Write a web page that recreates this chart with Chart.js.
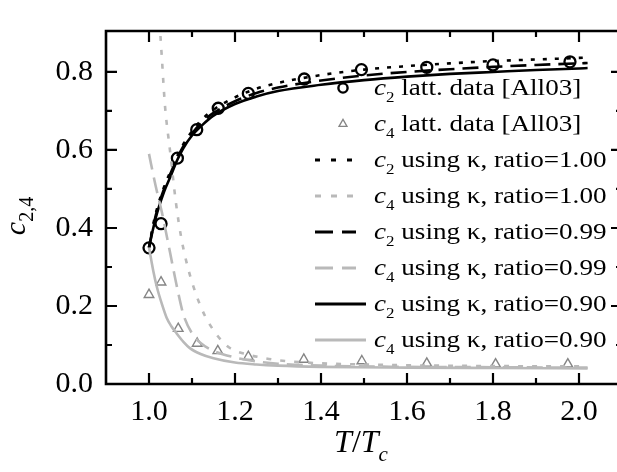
<!DOCTYPE html>
<html><head><meta charset="utf-8">
<script src="https://cdn.jsdelivr.net/npm/chart.js@4"></script>
<style>html,body{margin:0;padding:0;background:#fff;overflow:hidden;width:617px;height:472px}canvas{display:block}</style>
</head><body>
<canvas id="c" width="640" height="472"></canvas>
<script>
// ---- axis ticks ----
const xTicks = [1.0, 1.2, 1.4, 1.6, 1.8, 2.0];
const xMinor = [1.1, 1.3, 1.5, 1.7, 1.9, 2.1];
const yTicks = [0.0, 0.2, 0.4, 0.6, 0.8];
const yMinor = [0.1, 0.3, 0.5, 0.7];

// ---- lattice data ----
const c2LattT = [1.0, 1.028, 1.066, 1.111, 1.161, 1.231, 1.361, 1.494, 1.646, 1.80, 1.979];
const c2LattV = [0.349, 0.411, 0.579, 0.652, 0.707, 0.745, 0.782, 0.806, 0.812, 0.818, 0.826];
const c4LattT = [1.0, 1.028, 1.068, 1.112, 1.16, 1.231, 1.36, 1.495, 1.646, 1.806, 1.974];
const c4LattV = [0.229, 0.261, 0.142, 0.104, 0.085, 0.070, 0.063, 0.059, 0.053, 0.051, 0.051];

// ---- model curves ----
const c2T = [1.0, 1.01, 1.02, 1.035, 1.05, 1.066, 1.08, 1.1, 1.125, 1.15, 1.2, 1.25, 1.3, 1.4, 1.5, 1.6, 1.7, 1.8, 1.9, 2.0, 2.02];
const c2R100 = [0.35, 0.41, 0.455, 0.505, 0.545, 0.585, 0.615, 0.648, 0.68, 0.703, 0.735, 0.757, 0.772, 0.792, 0.806, 0.815, 0.822, 0.828, 0.832, 0.836, 0.837];
const c2R099 = [0.35, 0.405, 0.45, 0.5, 0.54, 0.58, 0.61, 0.642, 0.673, 0.695, 0.725, 0.746, 0.76, 0.778, 0.791, 0.8, 0.807, 0.813, 0.818, 0.822, 0.823];
const c2R090 = [0.35, 0.40, 0.443, 0.493, 0.532, 0.575, 0.605, 0.637, 0.665, 0.688, 0.718, 0.737, 0.751, 0.767, 0.779, 0.788, 0.795, 0.80, 0.805, 0.809, 0.81];

const c4R100T = [1.022, 1.026, 1.03, 1.037, 1.049, 1.063, 1.075, 1.091, 1.111, 1.13, 1.15, 1.17, 1.19, 1.22, 1.26, 1.3, 1.4, 1.5, 1.6, 1.8, 2.02];
const c4R100V = [1.0, 0.905, 0.835, 0.716, 0.597, 0.462, 0.375, 0.296, 0.225, 0.175, 0.138, 0.11, 0.091, 0.078, 0.068, 0.061, 0.053, 0.05, 0.048, 0.046, 0.045];
const c4R099T = [1.0, 1.015, 1.03, 1.049, 1.065, 1.08, 1.1, 1.12, 1.15, 1.2, 1.25, 1.3, 1.4, 1.6, 1.8, 2.02];
const c4R099V = [0.59, 0.51, 0.44, 0.337, 0.249, 0.178, 0.13, 0.105, 0.085, 0.068, 0.058, 0.052, 0.047, 0.044, 0.043, 0.042];
const c4R090T = [1.0, 1.01, 1.018, 1.03, 1.041, 1.052, 1.064, 1.08, 1.095, 1.12, 1.15, 1.2, 1.25, 1.3, 1.4, 1.6, 1.8, 2.02];
const c4R090V = [0.35, 0.29, 0.25, 0.205, 0.17, 0.148, 0.13, 0.108, 0.092, 0.077, 0.066, 0.055, 0.05, 0.047, 0.044, 0.042, 0.041, 0.04];

// ---- legend texts ----
const legendSub = ['2', '4', '2', '4', '2', '4', '2', '4'];
const legendText = ['latt. data [All03]', 'latt. data [All03]',
  'using \u03ba, ratio=1.00', 'using \u03ba, ratio=1.00',
  'using \u03ba, ratio=0.99', 'using \u03ba, ratio=0.99',
  'using \u03ba, ratio=0.90', 'using \u03ba, ratio=0.90'];

const FONT = 'Liberation Serif';
const GRAY = '#b9b9b9';
const TRI = '#858585';

const pts = (xs, ys) => xs.map((x, i) => ({x, y: ys[i]}));
const curve = (xs, ys, color, dash) => ({
  type: 'scatter', showLine: true, data: pts(xs, ys), borderColor: color, borderWidth: 2.6,
  borderDash: dash, pointRadius: 0, cubicInterpolationMode: 'monotone', fill: false
});

const legendStyle = [
  {kind: 'circle'}, {kind: 'tri'},
  {kind: 'line', color: '#000', dash: [5, 11]}, {kind: 'line', color: GRAY, dash: [6, 10]},
  {kind: 'line', color: '#000', dash: [18, 9]}, {kind: 'line', color: GRAY, dash: [18, 9]},
  {kind: 'line', color: '#000', dash: [], long: true}, {kind: 'line', color: GRAY, dash: [], long: true}
];

function rich(ctx, x, y, parts) {
  let cx = x;
  for (const p of parts) {
    ctx.font = p.font;
    ctx.fillText(p.t, cx, y + (p.dy || 0));
    cx += ctx.measureText(p.t).width + (p.gap || 0);
  }
  return cx - x;
}
function richWidth(ctx, parts) {
  let w = 0;
  for (const p of parts) { ctx.font = p.font; w += ctx.measureText(p.t).width + (p.gap || 0); }
  return w;
}

const framePlugin = {
  id: 'frame',
  afterDraw(chart) {
    const ctx = chart.ctx, a = chart.chartArea;
    const xs = chart.scales.x, ys = chart.scales.y;
    ctx.save();
    ctx.strokeStyle = '#000';
    ctx.lineWidth = 2.6;
    ctx.beginPath();
    ctx.moveTo(a.left, a.top); ctx.lineTo(a.right, a.top); ctx.lineTo(a.right, a.bottom);
    ctx.lineTo(a.left, a.bottom); ctx.closePath();
    ctx.stroke();
    ctx.lineWidth = 2.2;
    ctx.beginPath();
    const tk = (v, len) => { const px = xs.getPixelForValue(v);
      ctx.moveTo(px, a.bottom); ctx.lineTo(px, a.bottom - len);
      ctx.moveTo(px, a.top); ctx.lineTo(px, a.top + len); };
    xTicks.forEach(v => tk(v, 11)); xMinor.forEach(v => tk(v, 6));
    const ty = (v, len) => { const py = ys.getPixelForValue(v);
      ctx.moveTo(a.left, py); ctx.lineTo(a.left + len, py);
      ctx.moveTo(a.right, py); ctx.lineTo(a.right - len, py); };
    yTicks.forEach(v => ty(v, 11)); yMinor.forEach(v => ty(v, 6));
    ctx.stroke();

    // axis titles
    ctx.fillStyle = '#000';
    ctx.textBaseline = 'alphabetic';
    const xt = [
      {t: 'T', font: `italic 32px ${FONT}`},
      {t: '/', font: `32px ${FONT}`},
      {t: 'T', font: `italic 32px ${FONT}`},
      {t: 'c', font: `italic 21px ${FONT}`, dy: 9}
    ];
    const w = richWidth(ctx, xt);
    rich(ctx, 361 - w / 2, 452, xt);

    ctx.save();
    ctx.translate(25, 216);
    ctx.rotate(-Math.PI / 2);
    const yt = [
      {t: 'c', font: `italic 30px ${FONT}`},
      {t: '2,4', font: `20px ${FONT}`, dy: 8}
    ];
    const w2 = richWidth(ctx, yt);
    rich(ctx, -w2 / 2, 0, yt);
    ctx.restore();

    // legend
    const y0 = 88, dyRow = 36, symX = 343, lx0 = 315, textX = 374, sx = 1.13;
    legendText.forEach((txt, i) => {
      const cy = y0 + i * dyRow;
      const st = legendStyle[i];
      ctx.save();
      if (st.kind === 'circle') {
        ctx.strokeStyle = '#000'; ctx.lineWidth = 2.4;
        ctx.beginPath(); ctx.arc(symX, cy, 4.6, 0, Math.PI * 2); ctx.stroke();
      } else if (st.kind === 'tri') {
        ctx.strokeStyle = TRI; ctx.lineWidth = 1.3;
        const r = 4.6;
        ctx.beginPath();
        ctx.moveTo(symX, cy - r); ctx.lineTo(symX + r * 0.87, cy + r * 0.5); ctx.lineTo(symX - r * 0.87, cy + r * 0.5);
        ctx.closePath(); ctx.stroke();
      } else {
        ctx.strokeStyle = st.color; ctx.lineWidth = 2.8; ctx.setLineDash(st.dash);
        ctx.beginPath(); ctx.moveTo(lx0, cy); ctx.lineTo(st.long ? 366 : 356, cy); ctx.stroke();
      }
      ctx.restore();
      ctx.save();
      ctx.fillStyle = '#000';
      ctx.translate(textX, cy + 7);
      ctx.scale(sx, 1);
      rich(ctx, 0, 0, [
        {t: 'c', font: `italic 24px ${FONT}`},
        {t: legendSub[i], font: `15px ${FONT}`, dy: 7, gap: 6},
        {t: txt, font: `24px ${FONT}`}
      ]);
      ctx.restore();
    });
    ctx.restore();
  }
};

new Chart(document.getElementById('c'), {
  type: 'scatter',
  data: {
    datasets: [
      curve(c4R100T, c4R100V, GRAY, [5, 9]),
      curve(c4R099T, c4R099V, GRAY, [16, 8]),
      curve(c4R090T, c4R090V, GRAY, []),
      curve(c2T, c2R100, '#000', [4, 8]),
      curve(c2T, c2R099, '#000', [16, 8]),
      curve(c2T, c2R090, '#000', []),
      {type: 'scatter', data: pts(c2LattT, c2LattV), pointStyle: 'circle', pointRadius: 5.5,
        pointBorderWidth: 2.3, pointBorderColor: '#000', pointBackgroundColor: 'rgba(0,0,0,0)', showLine: false},
      {type: 'scatter', data: pts(c4LattT, c4LattV), pointStyle: 'triangle', pointRadius: 5.5,
        pointBorderWidth: 1.4, pointBorderColor: TRI, pointBackgroundColor: 'rgba(0,0,0,0)', showLine: false}
    ]
  },
  options: {
    responsive: false, animation: false, devicePixelRatio: 1,
    layout: {padding: {left: 0, top: 4, right: 18, bottom: 0}},
    plugins: {legend: {display: false}, tooltip: {enabled: false}},
    scales: {
      x: {
        type: 'linear', min: 0.9, max: 2.1,
        afterBuildTicks: s => { s.ticks = xTicks.map(v => ({value: v})); },
        afterFit: s => { s.height = 88; },
        grid: {display: false, drawTicks: false}, border: {display: false},
        ticks: {color: '#000', font: {family: FONT, size: 30}, padding: 10, maxRotation: 0,
          callback: v => Number(v).toFixed(1)}
      },
      y: {
        type: 'linear', min: 0, max: 0.905,
        afterBuildTicks: s => { s.ticks = yTicks.map(v => ({value: v})); },
        afterFit: s => { s.width = 106; },
        grid: {display: false, drawTicks: false}, border: {display: false},
        ticks: {color: '#000', font: {family: FONT, size: 30}, padding: 13,
          callback: v => Number(v).toFixed(1)}
      }
    }
  },
  plugins: [framePlugin]
});
</script>
</body></html>
